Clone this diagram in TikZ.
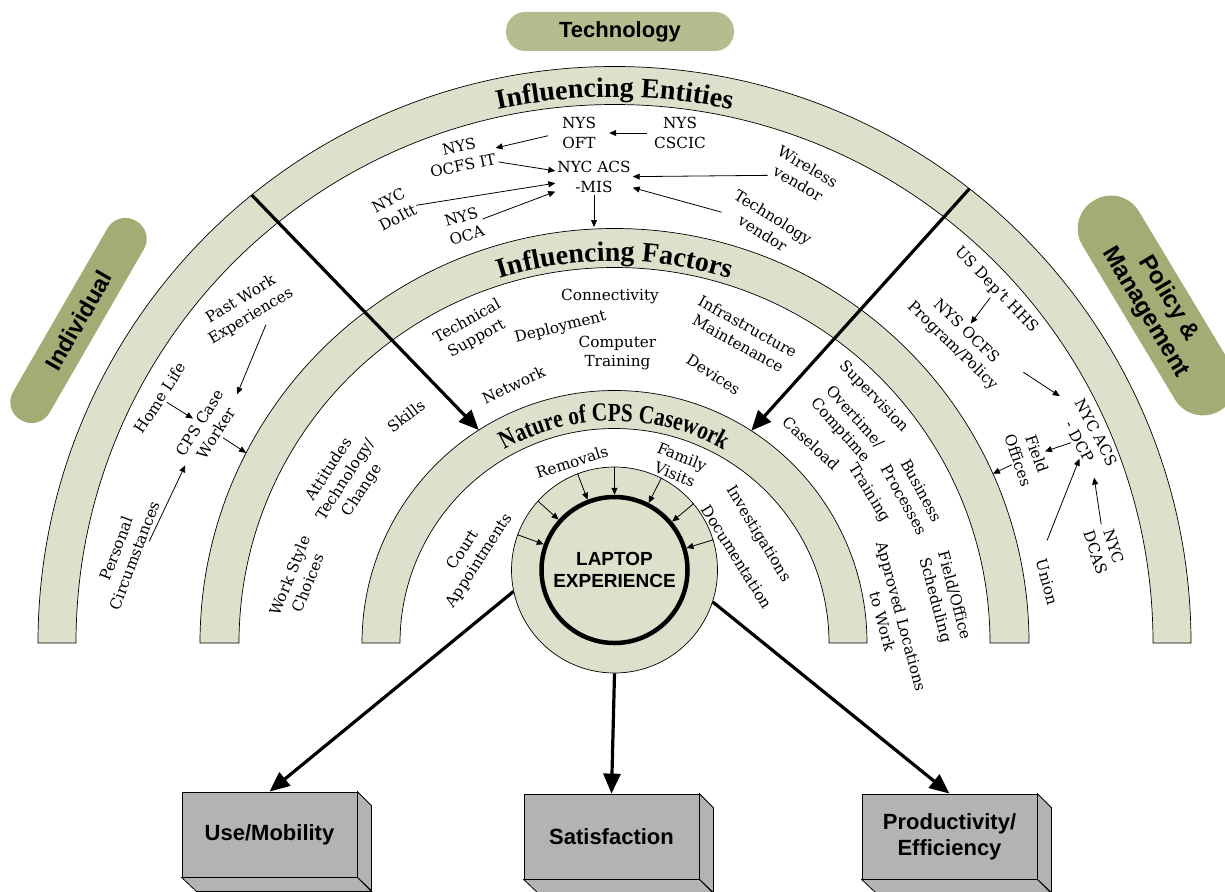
\documentclass[tikz,border=0pt]{standalone}
\usepackage{fontspec}
\setmainfont{DejaVu Serif}
\newfontfamily\sansfam{Liberation Sans}
\newfontfamily\titleserif{Liberation Serif}
\newfontfamily\condserif[FakeStretch=0.82]{Liberation Serif}
\usetikzlibrary{arrows.meta,decorations.text,calc}
\definecolor{bandc}{HTML}{DDE1CB}
\definecolor{pilllight}{HTML}{B5BD8E}
\definecolor{pilldark}{HTML}{A2AD76}
\definecolor{boxc}{HTML}{B3B3B3}
\newcommand\ttlfont{\titleserif\bfseries\fontsize{28}{30}\selectfont}
\newcommand\natfont{\condserif\bfseries\fontsize{26}{28}\selectfont}
\begin{document}
\begin{tikzpicture}[x=1pt,y=1pt,
  lbl/.style={font=\fontsize{15.3}{19.5}\selectfont, align=center, inner sep=2pt},
  sarr/.style={line width=0.8pt, -{Triangle[length=7pt,width=6pt]}},
  bigarr/.style={line width=3.2pt, -{Triangle[length=20pt,width=17pt]}},
  bandsty/.style={fill=bandc, draw=black, line width=0.7pt},
  pillsty/.style={fill=#1, text=black, inner sep=0pt, align=center},
  boxsty/.style={fill=boxc, draw=black, line width=0.8pt, minimum width=175pt, minimum height=85pt, align=center,
     font=\sansfam\bfseries\fontsize{22}{26}\selectfont},
  facesty/.style={fill=boxc, draw=black, line width=0.8pt}
]
\useasboundingbox (0,0) rectangle (1225,-891);
\coordinate (c) at (614.5,-643);

% bands
\foreach \ro/\ri in {576.5/538.5, 414.5/375.5, 252.5/214.5}{
  \path[bandsty] ($(c)+(0:\ro)$) arc[start angle=0,end angle=180,radius=\ro]
     -- ($(c)+(180:\ri)$) arc[start angle=180,end angle=0,radius=\ri] -- cycle;
}

% band titles
\path[decorate, decoration={text along path, text align=center, text={|\ttlfont|Influencing Entities}}]
  ($(c)+(180:546)$) arc[start angle=180,end angle=0,radius=546];
\path[decorate, decoration={text along path, text align=center, text={|\ttlfont|Influencing Factors}}]
  ($(c)+(180:382)$) arc[start angle=180,end angle=0,radius=382];
\path[decorate, decoration={text along path, text align=center, text={|\natfont|Nature of CPS Casework}}]
  ($(c)+(180:222)$) arc[start angle=180,end angle=0,radius=222];

% thick dividing arrows
\coordinate (L1) at ($(c)+(129:576.5)$);
\coordinate (L2) at ($(c)+(122.5:252.5)$);
\coordinate (R1) at ($(c)+(52:576.5)$);
\coordinate (R2) at ($(c)+(57.2:252.5)$);
\draw[bigarr] (L1) -- (L2);
\draw[bigarr] (R1) -- (R2);

% pills
\node[pillsty=pilllight, minimum width=228pt, minimum height=39pt, rounded corners=19pt,
  font=\sansfam\bfseries\fontsize{22}{24}\selectfont] (techpill) at (620,-31.5) {Technology};
\node[pillsty=pilldark, rotate=60, minimum width=230pt, minimum height=42pt, rounded corners=20.5pt,
  font=\sansfam\bfseries\fontsize{23.5}{26}\selectfont] (indpill) at (78.5,-320.5) {Individual};
\node[pillsty=pilldark, rotate=-59, minimum width=245pt, minimum height=66pt, rounded corners=32.5pt,
  font=\sansfam\bfseries\fontsize{24}{27}\selectfont] (polpill) at (1157,-305.5) {Policy \&\\Management};

% influencing entities (top)
\node[lbl] (oft) at (579,-133) {NYS\\OFT};
\node[lbl] (cscic) at (680,-133) {NYS\\CSCIC};
\node[lbl,rotate=12] (ocfsit) at (461,-156) {NYS\\OCFS IT};
\node[lbl] (acs) at (594,-177) {NYC ACS\\-MIS};
\node[lbl,rotate=28] (doitt) at (393,-209) {NYC\\DoItt};
\node[lbl,rotate=17] (oca) at (464,-226) {NYS\\OCA};
\node[lbl,rotate=-30] (wv) at (803,-175) {Wireless\\vendor};
\node[lbl,rotate=-32] (tv) at (768,-225) {Technology\\vendor};
\coordinate (fa) at (594,-227);
\draw[sarr,shorten <=5pt,shorten >=11pt] (cscic.west) -- (oft.east);
\draw[sarr,shorten <=12pt] (oft.west) -- (ocfsit);
\draw[sarr] (ocfsit) -- (acs);
\draw[sarr] (doitt) -- (acs);
\draw[sarr] (oca) -- (acs);
\draw[sarr] (wv) -- (acs);
\draw[sarr] (tv) -- (acs);
\draw[sarr] (acs.south) -- (fa);

% individual (left)
\node[lbl,rotate=31] (past) at (246,-308) {Past Work\\Experiences};
\node[lbl,rotate=57] (home) at (160,-398) {Home Life};
\node[lbl,rotate=58] (cps) at (208,-428) {CPS Case\\Worker};
\node[lbl,rotate=69] (pers) at (125.5,-552) {Personal\\Circumstances};
\coordinate (b2l) at ($(c)+(152.7:414.5)$);
\draw[sarr] ([xshift=10pt]past.south) -- ([xshift=8pt]cps.east);
\draw[sarr] (home) -- (cps);
\draw[sarr] (cps) -- (b2l);
\draw[sarr,shorten >=4pt] ([xshift=7pt,yshift=17pt]pers.south) -- (cps.west);

% policy (right)
\node[lbl,rotate=-46] (hhs) at (996,-290) {US Dep't HHS};
\node[lbl,rotate=-44] (ocfs) at (959,-339) {NYS OCFS\\Program/Policy};
\node[lbl,rotate=-62] (acsdcp) at (1088,-437) {NYC ACS\\- DCP};
\node[lbl,rotate=-71] (field) at (1028,-457) {Field\\Offices};
\node[lbl,rotate=-75] (union) at (1047,-582) {Union};
\node[lbl,rotate=-72] (dcas) at (1105,-549.5) {NYC\\DCAS};
\coordinate (b2r) at ($(c)+(24.1:414.5)$);
\draw[sarr] (hhs) -- (ocfs);
\draw[sarr,shorten <=8pt,shorten >=12pt] (ocfs.north east) -- (acsdcp.west);
\draw[sarr] (acsdcp) -- (field);
\draw[sarr] (field) -- (b2r);
\draw[sarr,shorten <=18pt] (union.west) -- (acsdcp);
\draw[sarr] (dcas) -- (acsdcp);

% influencing factors
\node[lbl,rotate=29] (techsup) at (472,-330) {Technical\\Support};
\node[lbl] (conn) at (610,-297) {Connectivity};
\node[lbl,rotate=14] (depl) at (560.5,-327.5) {Deployment};
\node[lbl] (comp) at (617.5,-353) {Computer\\Training};
\node[lbl,rotate=-29] (infra) at (743,-335) {Infrastructure\\Maintenance};
\node[lbl,rotate=25] (net) at (513.5,-385) {Network};
\node[lbl,rotate=-33] (dev) at (713.5,-374.5) {Devices};
\node[lbl,rotate=37] (skills) at (406,-416) {Skills};
\node[lbl,rotate=57] (att) at (346,-480) {Attitudes\\Technology/\\Change};
\node[lbl,rotate=68] (work) at (299,-579) {Work Style\\Choices};
\node[lbl,rotate=-43] (caseload) at (811,-443) {Caseload};
\node[lbl,rotate=-46] (sup) at (873.5,-397) {Supervision};
\node[lbl,rotate=-48] (over) at (847,-424) {Overtime/\\Comptime};
\node[lbl,rotate=-58] (train) at (869,-493) {Training};
\node[lbl,rotate=-61] (bus) at (913,-495) {Business\\Processes};
\node[lbl,rotate=-75] (appr) at (892,-619) {Approved Locations\\to Work};
\node[lbl,rotate=-75] (fo) at (944,-598) {Field/Office\\Scheduling};

% nature of casework
\node[lbl,rotate=18] (rem) at (572,-462) {Removals};
\node[lbl,rotate=-22] (fam) at (678.5,-465.5) {Family\\Visits};
\node[lbl,rotate=57] (court) at (471.5,-555.5) {Court\\Appointments};
\node[lbl,rotate=-58.6] (inv) at (758,-534) {Investigations};
\node[lbl,rotate=-58] (doc) at (737,-557) {Documentation};

% laptop circle
\node[circle, fill=bandc, draw=black, line width=0.7pt, minimum size=206pt, inner sep=0pt] (gc) at (614.5,-570) {};
\node[circle, draw=black, line width=4.5pt, minimum size=146pt, inner sep=0pt, align=center,
  font=\sansfam\bfseries\fontsize{19}{22}\selectfont] (lc) at (614.5,-570) {LAPTOP\\EXPERIENCE};
\foreach \a in {160,138,111,90,63,40,17}{
  \draw[sarr] (gc.\a) -- (lc.\a);
}

% outcome boxes
\node[boxsty] (usebox) at (269.5,-834.5) {Use/Mobility};
\node[boxsty] (satbox) at (611.5,-836.5) {Satisfaction};
\node[boxsty] (prodbox) at (949.5,-836.5) {Productivity/\\Efficiency};
\foreach \b in {usebox,satbox,prodbox}{
  \draw[facesty] (\b.north east) -- ++(14,-14) -- ++(0,-85) -- (\b.south east) -- cycle;
  \draw[facesty] (\b.south west) -- (\b.south east) -- ++(14,-14) -- ++(-175,0) -- cycle;
}
\draw[bigarr] (gc.192.8) -- (usebox.north);
\draw[bigarr] (gc.south) -- (satbox.north);
\draw[bigarr] (gc.-18.2) -- (prodbox.north);
\end{tikzpicture}
\end{document}
